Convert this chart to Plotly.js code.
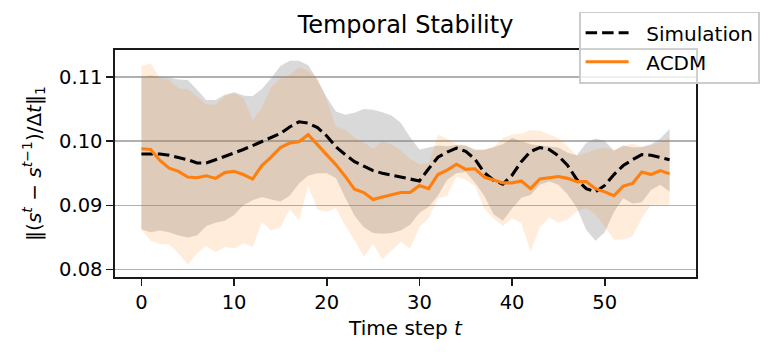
<!DOCTYPE html>
<html>
<head>
<meta charset="utf-8">
<script src="https://cdn.plot.ly/plotly-3.0.1.min.js"></script>
<style>
html,body{margin:0;padding:0;background:#fff;}
#chart{width:775px;height:359px;}
</style>
</head>
<body>
<div id="chart"></div>
<script>
// Time steps
const timeSteps = Array.from({length: 58}, (_, i) => i);

// Simulation mean and band
const simMean = [0.0980,0.0980,0.0980,0.0978,0.0975,0.0971,0.0966,0.0966,0.0971,0.0976,
  0.0982,0.0987,0.0993,0.0999,0.1005,0.1012,0.1022,0.1030,0.1028,0.1021,
  0.1008,0.0991,0.0979,0.0968,0.0961,0.0954,0.0950,0.0947,0.0943,0.0940,
  0.0938,0.0957,0.0975,0.0983,0.0989,0.0984,0.0972,0.0951,0.0939,0.0933,
  0.0947,0.0968,0.0984,0.0990,0.0987,0.0977,0.0962,0.0940,0.0926,0.0921,
  0.0931,0.0948,0.0962,0.0971,0.0979,0.0978,0.0974,0.0971];
const simUpper = [0.1100,0.1102,0.1100,0.1099,0.1096,0.1095,0.1080,0.1064,0.1064,0.1072,
  0.1076,0.1071,0.1070,0.1081,0.1098,0.1117,0.1125,0.1125,0.1118,0.1095,
  0.1068,0.1046,0.1041,0.1044,0.1050,0.1049,0.1045,0.1040,0.1028,0.1006,
  0.0987,0.0990,0.0993,0.0992,0.0994,0.0993,0.0987,0.0986,0.0990,0.0995,
  0.1005,0.1000,0.0995,0.0993,0.0992,0.0990,0.0982,0.0978,0.0997,0.1004,
  0.1000,0.0985,0.0993,0.0990,0.0991,0.0995,0.1004,0.1019];
const simLower = [0.0863,0.0858,0.0861,0.0858,0.0853,0.0850,0.0853,0.0868,0.0873,0.0876,
  0.0885,0.0900,0.0908,0.0913,0.0909,0.0906,0.0915,0.0934,0.0946,0.0950,
  0.0950,0.0942,0.0912,0.0884,0.0866,0.0857,0.0856,0.0857,0.0861,0.0870,
  0.0888,0.0898,0.0915,0.0940,0.0950,0.0952,0.0935,0.0915,0.0886,0.0876,
  0.0895,0.0912,0.0916,0.0932,0.0937,0.0932,0.0917,0.0896,0.0862,0.0845,
  0.0858,0.0890,0.0911,0.0903,0.0905,0.0924,0.0932,0.0921];

// ACDM mean and band
const acdmMean = [0.0988,0.0987,0.0970,0.0958,0.0953,0.0944,0.0943,0.0946,0.0942,0.0951,
  0.0953,0.0948,0.0941,0.0962,0.0975,0.0990,0.0997,0.0999,0.1010,0.0994,
  0.0978,0.0963,0.0945,0.0925,0.0920,0.0909,0.0913,0.0917,0.0920,0.0920,
  0.0931,0.0926,0.0948,0.0955,0.0964,0.0956,0.0957,0.0944,0.0939,0.0935,
  0.0935,0.0938,0.0926,0.0941,0.0943,0.0945,0.0942,0.0937,0.0937,0.0926,
  0.0921,0.0915,0.0930,0.0934,0.0952,0.0948,0.0954,0.0949];
const acdmUpper = [0.1116,0.1121,0.1098,0.1095,0.1082,0.1081,0.1070,0.1057,0.1057,0.1070,
  0.1075,0.1067,0.1033,0.1052,0.1084,0.1097,0.1103,0.1115,0.1109,0.1097,
  0.1064,0.1022,0.1018,0.1005,0.0998,0.0988,0.1000,0.0995,0.0985,0.0972,
  0.0964,0.0965,0.1010,0.1004,0.0995,0.0993,0.0985,0.0987,0.0990,0.1005,
  0.1010,0.1012,0.1017,0.1016,0.1010,0.1005,0.0992,0.0977,0.0982,0.0987,
  0.0990,0.0986,0.0992,0.0996,0.0991,0.0993,0.0998,0.1005];
const acdmLower = [0.0862,0.0845,0.0840,0.0839,0.0825,0.0808,0.0825,0.0837,0.0827,0.0835,
  0.0833,0.0841,0.0835,0.0874,0.0861,0.0866,0.0894,0.0877,0.0930,0.0893,
  0.0890,0.0896,0.0868,0.0846,0.0820,0.0840,0.0816,0.0830,0.0843,0.0833,
  0.0866,0.0880,0.0911,0.0915,0.0945,0.0940,0.0930,0.0895,0.0880,0.0868,
  0.0880,0.0872,0.0828,0.0866,0.0881,0.0873,0.0878,0.0891,0.0896,0.0886,
  0.0866,0.0847,0.0847,0.0852,0.0880,0.0901,0.0901,0.0901];

const xTickVals = [0, 10, 20, 30, 40, 50];
const yTickVals = [0.08, 0.09, 0.10, 0.11];
const yTickText = ['0.08', '0.09', '0.10', '0.11'];
const seriesNames = ['Simulation', 'ACDM'];

const FONT = 'DejaVu Sans, sans-serif';
const PAD = '\u00A0\u00A0';

const traces = [
  {x: timeSteps, y: simLower, type: 'scatter', mode: 'lines', line: {width: 0, color: 'rgba(0,0,0,0)'},
   showlegend: false, hoverinfo: 'skip'},
  {x: timeSteps, y: simUpper, type: 'scatter', mode: 'lines', line: {width: 0, color: 'rgba(0,0,0,0)'},
   fill: 'tonexty', fillcolor: 'rgba(128,128,128,0.3)', showlegend: false, hoverinfo: 'skip'},
  {x: timeSteps, y: acdmLower, type: 'scatter', mode: 'lines', line: {width: 0, color: 'rgba(0,0,0,0)'},
   showlegend: false, hoverinfo: 'skip'},
  {x: timeSteps, y: acdmUpper, type: 'scatter', mode: 'lines', line: {width: 0, color: 'rgba(0,0,0,0)'},
   fill: 'tonexty', fillcolor: 'rgba(255,127,14,0.15)', showlegend: false, hoverinfo: 'skip'},
  {x: timeSteps, y: simMean, type: 'scatter', mode: 'lines', name: PAD + seriesNames[0],
   line: {color: '#000000', width: 3.1, dash: '11.5px,5px'}},
  {x: timeSteps, y: acdmMean, type: 'scatter', mode: 'lines', name: PAD + seriesNames[1],
   line: {color: '#ff7f0e', width: 3.1}}
];

const layout = {
  width: 775, height: 359,
  margin: {l: 115, r: 79, t: 46, b: 82},
  paper_bgcolor: '#ffffff', plot_bgcolor: '#ffffff',
  font: {family: FONT, size: 19.5, color: '#000000'},
  title: {text: 'Temporal Stability', font: {family: FONT, size: 24, color: '#000'},
          x: 0.5, xref: 'paper', xanchor: 'center', y: 1 - 25/359, yref: 'container', yanchor: 'middle'},
  xaxis: {
    range: [-2.85, 59.85], tickmode: 'array', tickvals: xTickVals,
    showgrid: false, zeroline: false,
    showline: true, mirror: true, linecolor: '#1a1a1a', linewidth: 1.6,
    ticks: 'outside', ticklen: 7, tickwidth: 1.6, tickcolor: '#1a1a1a',
    tickfont: {family: FONT, size: 19.5, color: '#000'},
    title: {text: 'Time step <i>t</i>', font: {family: FONT, size: 20, color: '#000'}, standoff: 8}
  },
  yaxis: {
    range: [0.07885, 0.11418], tickmode: 'array', tickvals: yTickVals, ticktext: yTickText,
    showgrid: true, gridcolor: '#b0b0b0', gridwidth: 1.6, zeroline: false,
    showline: true, mirror: true, linecolor: '#1a1a1a', linewidth: 1.6,
    ticks: 'outside', ticklen: 7, tickwidth: 1.6, tickcolor: '#1a1a1a',
    tickfont: {family: FONT, size: 19.5, color: '#000'},
    title: {text: '‖(<i>s</i><sup><i>t</i></sup> − <i>s</i><sup><i>t</i>−1</sup>)/Δ<i>t</i>‖<sub>1</sub>',
            font: {family: FONT, size: 20, color: '#000'}, standoff: 12}
  },
  showlegend: true,
  legend: {
    x: (579 - 115) / 581, xanchor: 'left', y: 1 + (46 - 7) / 231, yanchor: 'top',
    bgcolor: 'rgba(255,255,255,0.8)', bordercolor: '#cccccc', borderwidth: 1.6,
    font: {family: FONT, size: 20, color: '#000'}, itemwidth: 43, traceorder: 'normal'
  }
};

Plotly.newPlot('chart', traces, layout, {displayModeBar: false, staticPlot: true});
</script>
</body>
</html>
